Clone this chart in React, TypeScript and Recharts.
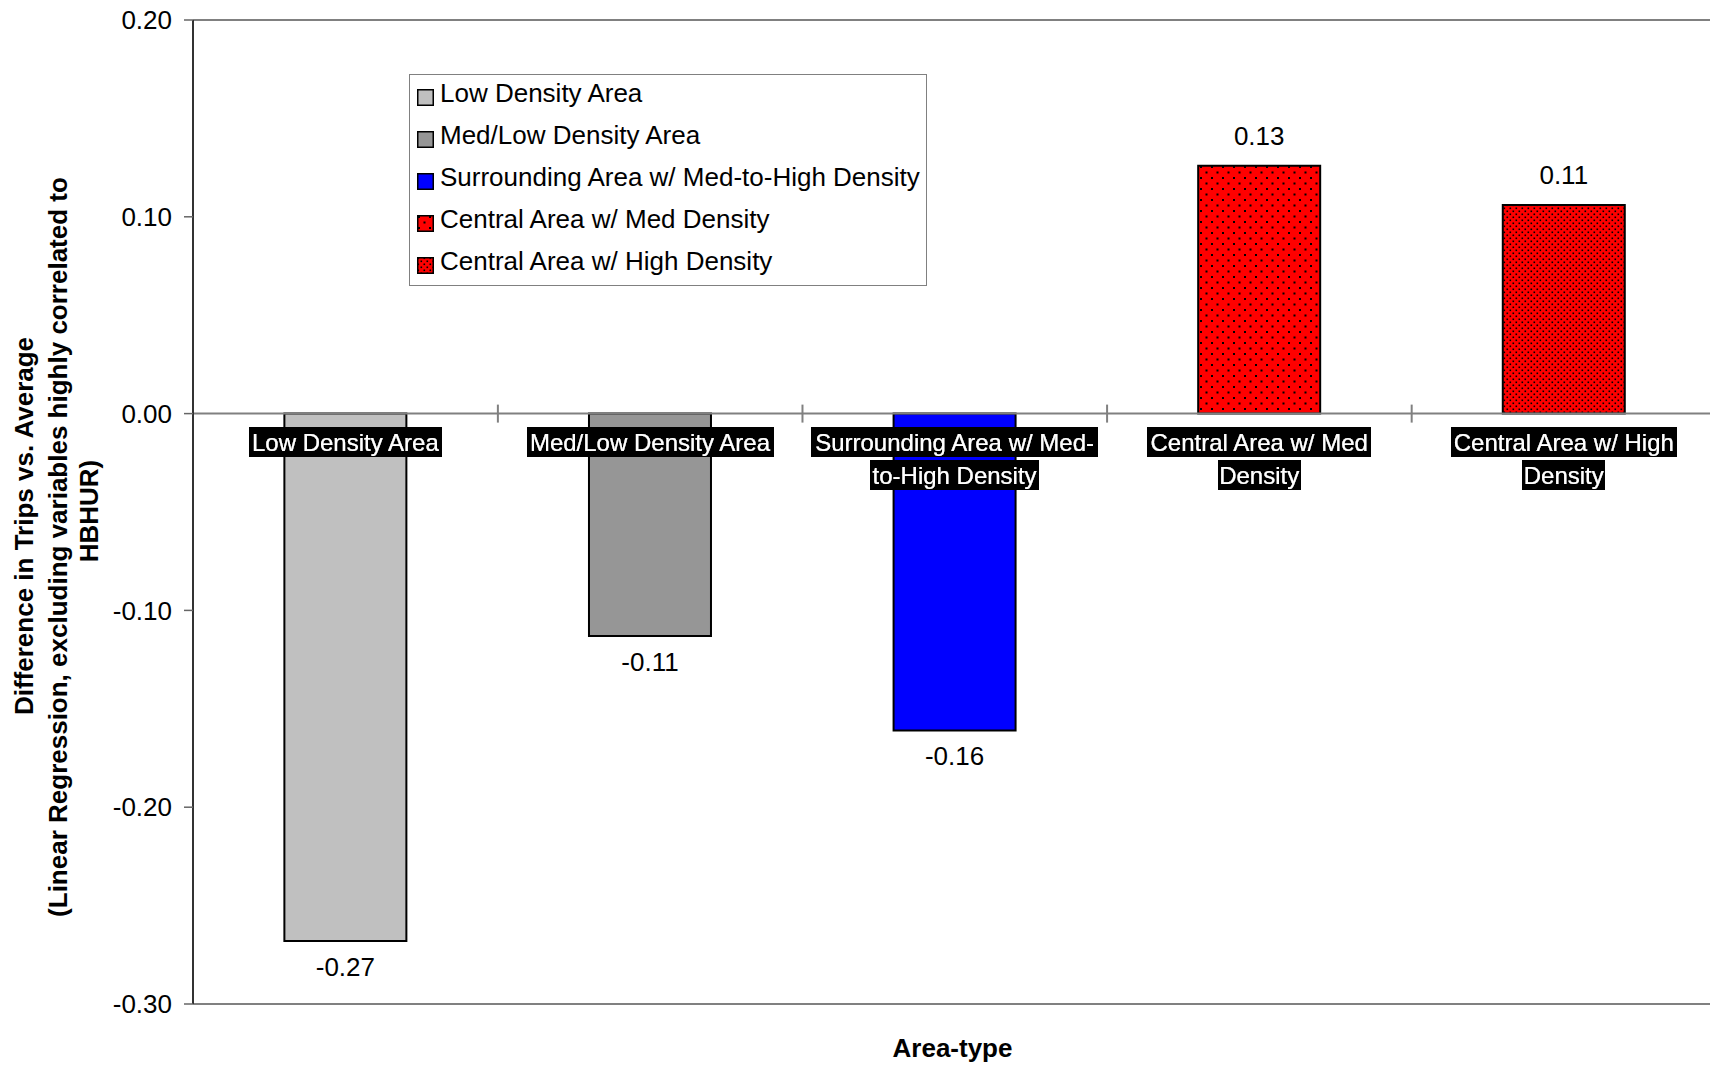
import { BarChart, Bar, Cell, XAxis, YAxis, ReferenceLine, LabelList, Legend } from "recharts";

const categories = [
  "Low Density Area",
  "Med/Low Density Area",
  "Surrounding Area w/ Med-to-High Density",
  "Central Area w/ Med Density",
  "Central Area w/ High Density",
];
// how the category names wrap under the zero line
const categoryLines = [
  ["Low Density Area"],
  ["Med/Low Density Area"],
  ["Surrounding Area w/ Med-", "to-High Density"],
  ["Central Area w/ Med", "Density"],
  ["Central Area w/ High", "Density"],
];
const values = [-0.268, -0.113, -0.161, 0.126, 0.106];
const valueLabels = ["-0.27", "-0.11", "-0.16", "0.13", "0.11"];
const fills = ["#C0C0C0", "#969696", "#0000FF", "url(#dotsSparse)", "url(#dotsDense)"];
const yTicks = [-0.3, -0.2, -0.1, 0, 0.1, 0.2];
const yTitleLines = [
  "Difference in Trips vs. Average",
  "(Linear Regression, excluding variables highly correlated to",
  "HBHUR)",
];
const xTitle = "Area-type";

const FONT = '"Liberation Sans", Arial, sans-serif';
const GAP = 0.3; // barCategoryGap as a fraction of the band

const data = categories.map((name, i) => ({ name, value: values[i], idx: i }));

function BarLabels(props: any) {
  const vb = props.viewBox ?? props;
  const i = Number(props.value);
  const w = vb.width;
  const top = Math.min(vb.y, vb.y + vb.height);
  const bottom = Math.max(vb.y, vb.y + vb.height);
  const cx = vb.x + w / 2;
  const positive = values[i] >= 0;
  const zeroY = positive ? bottom : top;
  const band = w / (1 - 2 * GAP);
  const boundary = cx + band / 2;
  return (
    <g>
      {i < categories.length - 1 && (
        <line x1={boundary} x2={boundary} y1={zeroY - 9} y2={zeroY + 9} stroke="#808080" strokeWidth={2} />
      )}
      <text x={cx} y={positive ? top - 21 : bottom + 35} textAnchor="middle" fontSize={26} fill="#000">
        {valueLabels[i]}
      </text>
      {categoryLines[i].map((line, k) => (
        <text
          key={k}
          x={cx}
          y={zeroY + 37 + k * 33}
          textAnchor="middle"
          fontSize={24}
          fill="#fff"
          filter="url(#labelBg)"
        >
          {line}
        </text>
      ))}
    </g>
  );
}

function YTitle(props: any) {
  const vb = props.viewBox;
  const xs = [33, 67, 98];
  const cys = [526, 547, 511];
  return (
    <g>
      {yTitleLines.map((line, k) => {
        const x = vb.x + xs[k];
        return (
          <text
            key={k}
            x={x}
            y={cys[k]}
            transform={`rotate(-90 ${x} ${cys[k]})`}
            textAnchor="middle"
            fontSize={26}
            fontWeight="bold"
            fill="#000"
          >
            {line}
          </text>
        );
      })}
    </g>
  );
}

function XTitle(props: any) {
  const vb = props.viewBox;
  return (
    <text x={vb.x + vb.width / 2 - 2} y={vb.y + 53} textAnchor="middle" fontSize={26} fontWeight="bold" fill="#000">
      {xTitle}
    </text>
  );
}

function LegendBox() {
  return (
    <div
      style={{
        boxSizing: "border-box",
        width: 518,
        height: 212,
        border: "1.5px solid #808080",
        background: "#fff",
        position: "relative",
        fontFamily: FONT,
        fontSize: 26,
        color: "#000",
      }}
    >
      {categories.map((c, i) => (
        <div
          key={c}
          style={{
            position: "absolute",
            left: 7,
            top: -2.5 + 42 * i,
            height: 42,
            display: "flex",
            alignItems: "center",
            whiteSpace: "nowrap",
          }}
        >
          <svg width={17} height={17} style={{ marginTop: 8, marginRight: 6 }}>
            <rect x={0.75} y={0.75} width={15.5} height={15.5} fill={fills[i]} stroke="#000" strokeWidth={1.5} />
          </svg>
          <span>{c}</span>
        </div>
      ))}
    </div>
  );
}

export default function App() {
  return (
    <div style={{ position: "fixed", left: 0, top: 0, width: 1710, height: 1066, overflow: "hidden", background: "#fff" }}>
      <BarChart
        width={1720}
        height={1066}
        data={data}
        margin={{ top: 20, right: 4, left: 0, bottom: 0 }}
        barCategoryGap={`${GAP * 100}%`}
        style={{ fontFamily: FONT }}
      >
        <defs>
          <pattern id="dotsSparse" width={11} height={11} patternUnits="userSpaceOnUse">
            <rect width={11} height={11} fill="#FF0000" />
            <rect x={1} y={1} width={2} height={2} fill="#000" />
            <rect x={6.5} y={6.5} width={2} height={2} fill="#000" />
          </pattern>
          <pattern id="dotsDense" width={6} height={6} patternUnits="userSpaceOnUse">
            <rect width={6} height={6} fill="#FF0000" />
            <rect x={0.5} y={0.5} width={1.6} height={1.6} fill="#000" />
            <rect x={3.5} y={3.5} width={1.6} height={1.6} fill="#000" />
          </pattern>
          <filter id="labelBg" x="-0.012" y="-0.04" width="1.024" height="1.08">
            <feFlood floodColor="#000" />
            <feComposite in="SourceGraphic" operator="over" />
          </filter>
        </defs>
        <XAxis dataKey="name" tick={false} axisLine={false} tickLine={false} height={62} label={<XTitle />} />
        <YAxis
          type="number"
          domain={[-0.3, 0.2]}
          ticks={yTicks}
          width={193}
          tickFormatter={(v: number) => v.toFixed(2)}
          tick={{ fontSize: 26, fill: "#000" }}
          tickSize={9}
          tickMargin={12}
          axisLine={{ stroke: "#333", strokeWidth: 2 }}
          tickLine={{ stroke: "#666", strokeWidth: 1.5 }}
          label={<YTitle />}
        />
        <ReferenceLine y={0.2} stroke="#808080" strokeWidth={2} />
        <ReferenceLine y={-0.3} stroke="#808080" strokeWidth={2} />
        <ReferenceLine y={0} stroke="#808080" strokeWidth={2} />
        <Legend
          layout="vertical"
          align="center"
          verticalAlign="middle"
          wrapperStyle={{ left: 409, top: 74, width: 518, height: 212 }}
          content={<LegendBox />}
        />
        <Bar dataKey="value" stroke="#000" strokeWidth={2} isAnimationActive={false}>
          {data.map((d, i) => (
            <Cell key={d.name} fill={fills[i]} />
          ))}
          <LabelList dataKey="idx" content={<BarLabels />} />
        </Bar>
      </BarChart>
    </div>
  );
}
